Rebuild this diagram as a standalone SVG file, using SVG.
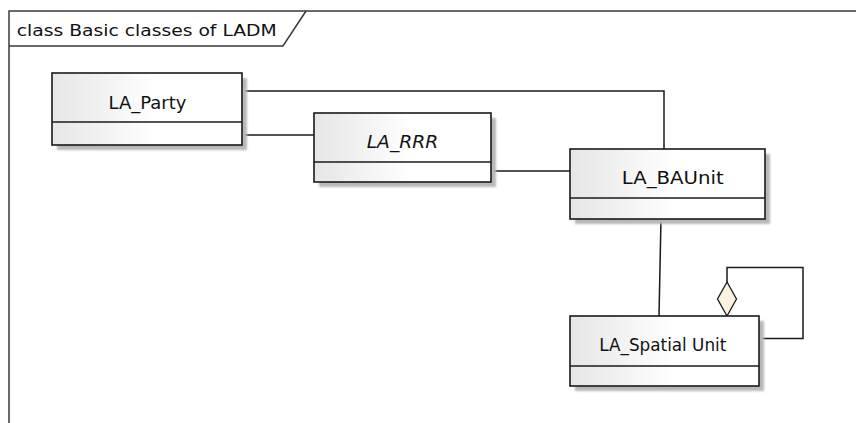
<svg xmlns="http://www.w3.org/2000/svg" width="856" height="423" viewBox="0 0 856 423">
<defs>
  <linearGradient id="g" x1="0" y1="0" x2="1" y2="0">
    <stop offset="0" stop-color="#e6e6e6"/>
    <stop offset="0.55" stop-color="#ffffff"/>
    <stop offset="1" stop-color="#ffffff"/>
  </linearGradient>
  <filter id="blur" x="-10%" y="-10%" width="120%" height="120%">
    <feGaussianBlur stdDeviation="1.2"/>
  </filter>
</defs>
<style>
  .frame { fill: none; stroke: #3a3a3a; stroke-width: 1.5; }
  .box { fill: url(#g); stroke: #1a1a1a; stroke-width: 1.6; }
  .div { stroke: #1a1a1a; stroke-width: 1.6; }
  .shadow { fill: #b8b8b8; filter: url(#blur); }
  .lbl { font-family: "DejaVu Sans", "Liberation Sans", sans-serif; font-size: 17px; fill: #111; }
  .title { font-family: "DejaVu Sans", "Liberation Sans", sans-serif; font-size: 15px; fill: #111; }
  .conn { fill: none; stroke: #1a1a1a; stroke-width: 1.5; }
  .diamond { fill: #fbf1e0; stroke: #1a1a1a; stroke-width: 1.3; }
</style>
<rect x="0" y="0" width="856" height="423" fill="#ffffff"/>
<g id="frame">
  <path class="frame" d="M9,423 V11 H856"/>
  <path class="frame" d="M9,46 H283 L306,11"/>
  <text class="title" x="16.7" y="35.5" textLength="260" lengthAdjust="spacingAndGlyphs">class Basic classes of LADM</text>
</g>
<g id="connectors">
  <path class="conn" d="M242,91 H664 V149"/>
  <path class="conn" d="M242,135 H314"/>
  <path class="conn" d="M491,171 H570"/>
  <path class="conn" d="M661,219 L659,316"/>
  <path class="conn" d="M727,282 V267.5 H803 V338.5 H759"/>
  <path class="diamond" d="M727,282 L736.5,299 L727,316 L717.5,299 Z"/>
</g>
<g id="LA_Party">
  <rect class="shadow" x="57" y="78" width="190" height="72"/>
  <rect class="box" x="52" y="73" width="190" height="72"/>
  <line class="div" x1="52" y1="122" x2="242" y2="122"/>
  <text class="lbl" x="108.5" y="109" textLength="78" lengthAdjust="spacingAndGlyphs">LA_Party</text>
</g>
<g id="LA_RRR">
  <rect class="shadow" x="319" y="118" width="177" height="69"/>
  <rect class="box" x="314" y="113" width="177" height="69"/>
  <line class="div" x1="314" y1="162" x2="491" y2="162"/>
  <text class="lbl" x="366.7" y="147.5" font-style="italic" textLength="71.5" lengthAdjust="spacingAndGlyphs">LA_RRR</text>
</g>
<g id="LA_BAUnit">
  <rect class="shadow" x="575" y="154" width="195" height="70"/>
  <rect class="box" x="570" y="149" width="195" height="70"/>
  <line class="div" x1="570" y1="198" x2="765" y2="198"/>
  <text class="lbl" x="621.7" y="184" textLength="102" lengthAdjust="spacingAndGlyphs">LA_BAUnit</text>
</g>
<g id="LA_SpatialUnit">
  <rect class="shadow" x="575" y="321" width="189" height="70"/>
  <rect class="box" x="570" y="316" width="189" height="70"/>
  <line class="div" x1="570" y1="366" x2="759" y2="366"/>
  <text class="lbl" x="599.3" y="351" textLength="127" lengthAdjust="spacingAndGlyphs">LA_Spatial Unit</text>
</g>
</svg>
